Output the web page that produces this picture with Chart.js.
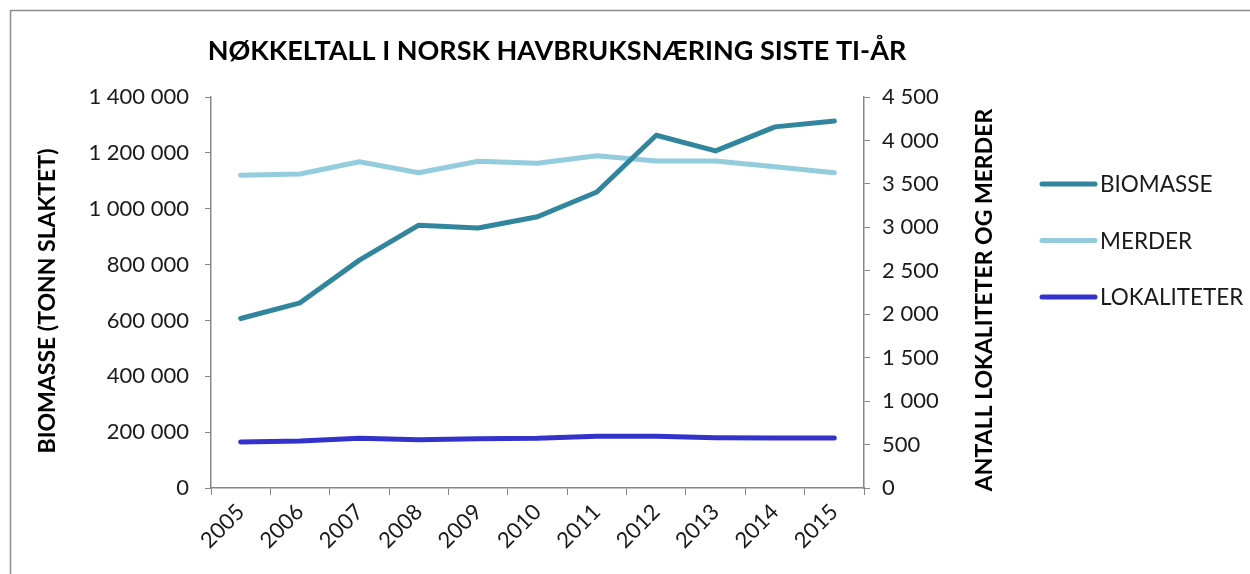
<!DOCTYPE html>
<html>
<head>
<meta charset="utf-8">
<script src="https://cdn.jsdelivr.net/npm/chart.js@4"></script>
<style>
  html, body { margin: 0; padding: 0; background: #fff; }
  #wrap { width: 1250px; height: 574px; position: relative; }
</style>
</head>
<body>
<div id="wrap"><canvas id="chart"></canvas></div>
<script>
const years = ['2005', '2006', '2007', '2008', '2009', '2010', '2011', '2012', '2013', '2014', '2015']

// tonn slaktet (venstre akse)
const biomasse = [607000, 663000, 816000, 941000, 931000, 971000, 1060000, 1263000, 1207000, 1293000, 1314000]
// antall (høyre akse)
const merder = [3599, 3614, 3755, 3629, 3760, 3737, 3825, 3763, 3763, 3698, 3629]
const lokaliteter = [529, 541, 572, 556, 567, 572, 595, 595, 579, 575, 575]

const titleText = 'NØKKELTALL I NORSK HAVBRUKSNÆRING SISTE TI-ÅR'
const leftTitle = 'BIOMASSE (TONN SLAKTET)'
const rightTitle = 'ANTALL LOKALITETER OG MERDER'

const FONT = 'Lato'
const axisGrey = '#868686'

const fmt = v => String(v).replace(/\B(?=(\d{3})+(?!\d))/g, ' ')

// tittel, aksetitler, legend og ramme
const decor = {
  id: 'decor',
  beforeDraw(chart) {
    const ctx = chart.ctx
    ctx.save()
    ctx.strokeStyle = '#8c8c8c'
    ctx.lineWidth = 1.5
    ctx.strokeRect(10.5, 10.5, 1400, 800)
    ctx.restore()
  },
  afterDraw(chart) {
    const ctx = chart.ctx
    ctx.save()
    ctx.fillStyle = '#000'
    ctx.textAlign = 'center'
    ctx.textBaseline = 'middle'
    ctx.font = `bold 27px ${FONT}`
    ctx.fillText(titleText, 557, 51)

    ctx.font = `bold 23px ${FONT}`
    ctx.save()
    ctx.translate(48, 301)
    ctx.rotate(-Math.PI / 2)
    ctx.fillText(leftTitle, 0, 0)
    ctx.restore()
    ctx.save()
    ctx.translate(985, 300)
    ctx.rotate(-Math.PI / 2)
    ctx.fillText(rightTitle, 0, 0)
    ctx.restore()

    // legend
    ctx.textAlign = 'left'
    ctx.font = `22.5px ${FONT}`
    ctx.lineCap = 'round'
    ctx.lineWidth = 5
    chart.data.datasets.forEach((ds, i) => {
      const y = 184 + i * 56.5
      ctx.strokeStyle = ds.borderColor
      ctx.beginPath()
      ctx.moveTo(1042, y)
      ctx.lineTo(1095, y)
      ctx.stroke()
      ctx.fillStyle = '#1a1a1a'
      ctx.fillText(ds.label, 1100, y + 1)
    })
    ctx.restore()
  }
}

new Chart(document.getElementById('chart'), {
  type: 'line',
  data: {
    labels: years,
    datasets: [
      { label: 'BIOMASSE', data: biomasse, yAxisID: 'y', borderColor: '#31859C' },
      { label: 'MERDER', data: merder, yAxisID: 'y1', borderColor: '#93CDDD' },
      { label: 'LOKALITETER', data: lokaliteter, yAxisID: 'y1', borderColor: '#3333CC' }
    ]
  },
  options: {
    responsive: true,
    maintainAspectRatio: false,
    animation: false,
    layout: { padding: { top: 97, left: 0, right: 0, bottom: 0 } },
    elements: {
      line: { borderWidth: 5, tension: 0, borderCapStyle: 'round', borderJoinStyle: 'round' },
      point: { radius: 0 }
    },
    plugins: {
      legend: { display: false },
      title: { display: false },
      tooltip: { enabled: false }
    },
    scales: {
      x: {
        offset: true,
        grid: { offset: true, drawOnChartArea: false, color: axisGrey, tickLength: 7 },
        border: { color: axisGrey, width: 1.5 },
        ticks: { maxRotation: 45, minRotation: 45, padding: 4, color: '#1a1a1a', font: { family: FONT, size: 22 } },
        afterFit(s) { s.height = 86 }
      },
      y: {
        position: 'left',
        min: 0, max: 1400000,
        ticks: { stepSize: 200000, padding: 16, color: '#1a1a1a', font: { family: FONT, size: 22 }, callback: v => fmt(v) },
        grid: { drawOnChartArea: false, color: axisGrey, tickLength: 6 },
        border: { color: axisGrey, width: 1.5 },
        afterFit(s) { s.width = 211 }
      },
      y1: {
        position: 'right',
        min: 0, max: 4500,
        ticks: { stepSize: 500, padding: 12, color: '#1a1a1a', font: { family: FONT, size: 22 }, callback: v => fmt(v) },
        grid: { drawOnChartArea: false, color: axisGrey, tickLength: 6 },
        border: { color: axisGrey, width: 1.5 },
        afterFit(s) { s.width = 386 }
      }
    }
  },
  plugins: [decor]
})
</script>
</body>
</html>
